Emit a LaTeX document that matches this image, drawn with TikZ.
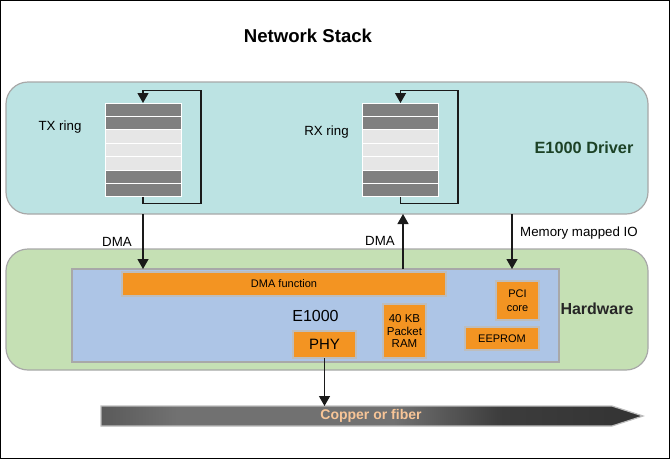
\documentclass[tikz,border=0pt]{standalone}
\usepackage{fontspec}
\setmainfont{Liberation Sans}
\usetikzlibrary{arrows.meta}

\definecolor{drvfill}{HTML}{BCE3E3}
\definecolor{hwfill}{HTML}{C5E0B4}
\definecolor{nicfill}{HTML}{ADC5E6}
\definecolor{layerline}{HTML}{A8A8A8}
\definecolor{unitfill}{HTML}{F39422}
\definecolor{unitline}{HTML}{BDBDBD}
\definecolor{slotdark}{HTML}{808080}
\definecolor{slotlight}{HTML}{E6E6E6}
\definecolor{wirecol}{HTML}{1A1A1A}
\definecolor{drvtext}{HTML}{1C4226}
\definecolor{cabletext}{HTML}{F8C597}
\definecolor{cableA}{HTML}{5A5A5A}
\definecolor{cableB}{HTML}{717171}
\definecolor{cableC}{HTML}{3C3C3C}
\definecolor{cableD}{HTML}{333333}
\pgfdeclarehorizontalshading{cable}{100bp}{color(0bp)=(cableA); color(25bp)=(cableA); color(32bp)=(cableB); color(52bp)=(cableB); color(62bp)=(cableC); color(75bp)=(cableD); color(100bp)=(cableD)}

\begin{document}
\begin{tikzpicture}[x=1pt,y=-1pt]
\tikzstyle{every node}=[inner sep=0pt,outer sep=0pt];
\tikzstyle{layer}=[draw=layerline,line width=1.2pt,rounded corners=22pt];
\tikzstyle{unit}=[draw=unitline,line width=1.5pt,fill=unitfill,align=center,font=\fontsize{11}{13}\selectfont];
\tikzstyle{slot}=[draw=white,line width=1pt,minimum width=76pt,minimum height=13.4pt];
\tikzstyle{wire}=[draw=wirecol,line width=1.3pt,-{Triangle[width=11pt,length=10pt]}];
\tikzstyle{txt}=[font=\fontsize{13.3}{15}\selectfont];
\useasboundingbox (0,0) rectangle (670,459);
\draw[line width=1pt] (0.5,0.5) rectangle (669.5,458.5);

\node[font=\bfseries\fontsize{18.6}{20}\selectfont] (title) at (308,36) {Network Stack};

% driver and hardware layers
\node[layer,fill=drvfill,minimum width=642pt,minimum height=132pt] (driver) at (327,148) {};
\node[layer,fill=hwfill,minimum width=642pt,minimum height=121pt] (hw) at (327,309.5) {};
\node[draw=layerline,line width=1.2pt,fill=nicfill,minimum width=487pt,minimum height=93pt,font=\fontsize{16}{18}\selectfont] (e1000) at (315.5,315.5) {E1000};

\node[font=\bfseries\fontsize{16.3}{18}\selectfont,text=drvtext] (drvlbl) at (584,148) {E1000 Driver};
\node[font=\bfseries\fontsize{16}{18}\selectfont,text=black!85] (hwlbl) at (597,309) {Hardware};

% units on the card
\node[unit,minimum width=324pt,minimum height=24pt] (dmaf) at (284,284) {DMA function};
\node[unit,minimum width=43pt,minimum height=39pt] (pci) at (517.5,300.5) {PCI\\[1pt]core};
\node[unit,minimum width=74pt,minimum height=23pt] (eeprom) at (502,338.5) {EEPROM};
\node[unit,minimum width=43pt,minimum height=54pt,font=\fontsize{11.5}{12.5}\selectfont] (ram) at (404.5,331) {40 KB\\Packet\\RAM};
\node[unit,minimum width=63pt,minimum height=27pt,font=\fontsize{15}{17}\selectfont] (phy) at (324.5,344.5) {PHY};

% rings
\foreach \c [count=\i] in {slotdark,slotdark,slotlight,slotlight,slotlight,slotdark,slotdark} {
  \node[slot,fill=\c] (tx\i) at (143,{96.3+\i*13.4}) {};
  \node[slot,fill=\c] (rx\i) at (400.5,{96.3+\i*13.4}) {};
}
\node[txt] (txlbl) at (60,127) {TX ring};
\node[txt] (rxlbl) at (326.5,132) {RX ring};
\draw[wire] (tx7.south) -- ++(0,6.5) -- ++(58,0) -- ++(0,-113) -- ++(-58,0) -- (tx1.north);
\draw[wire] (rx7.south) -- ++(0,6.5) -- ++(57.5,0) -- ++(0,-113) -- ++(-57.5,0) -- (rx1.north);

% transfers
\coordinate (mmio) at (512,230);
\draw[wire] (tx7.south |- driver.south) -- (tx7.south |- e1000.north);
\draw[wire] ([xshift=2.5pt]rx7.south |- e1000.north) -- ([xshift=2.5pt]rx7.south |- driver.south);
\draw[wire] (mmio |- driver.south) -- (mmio |- e1000.north);
\node[txt] (dma1) at (117,242) {DMA};
\node[txt] (dma2) at (380,241) {DMA};
\node[txt] (mmiolbl) at (579,233) {Memory mapped IO};

% medium
\coordinate (cable) at (101,406);
\path[draw=unitline,line width=1.2pt,shading=cable] (cable) -- ++(511,0) -- ++(31,10) -- ++(-31,10) -- ++(-511,0) -- cycle;
\node[font=\bfseries\fontsize{14}{16}\selectfont,text=cabletext] (medium) at (371,416) {Copper or fiber};
\draw[wire] (phy.south) -- (phy.south |- cable);
\end{tikzpicture}
\end{document}
